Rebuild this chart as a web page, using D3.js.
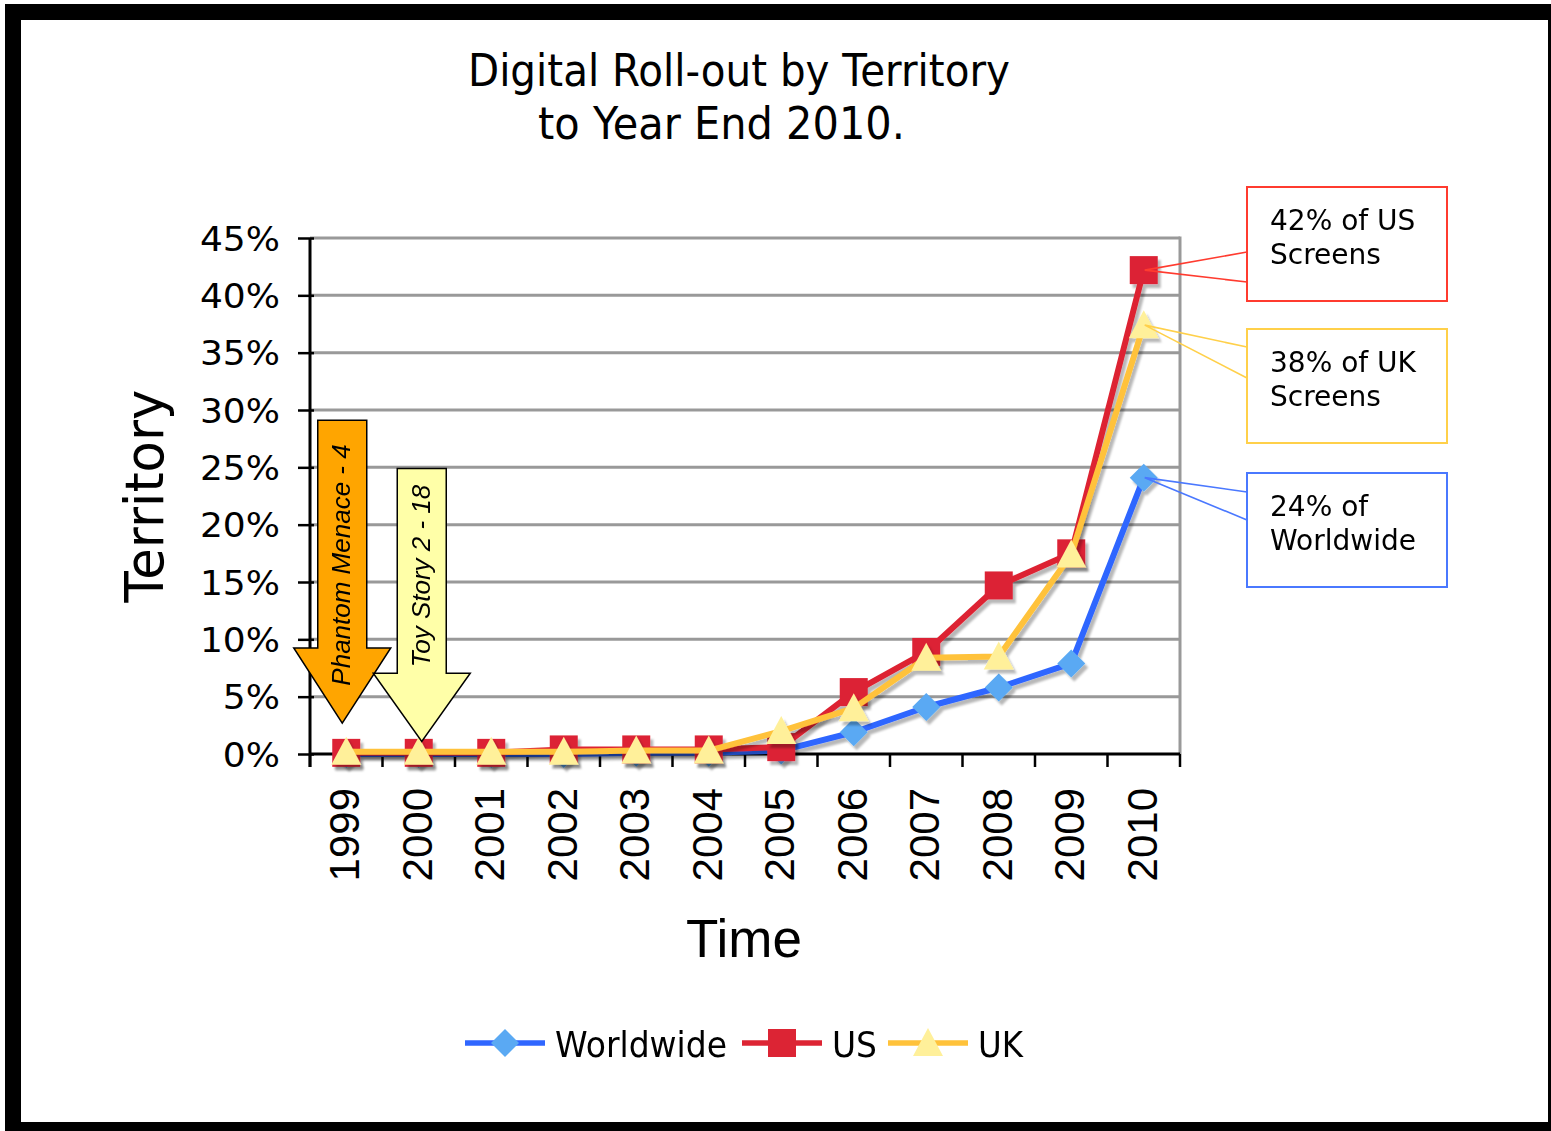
<!DOCTYPE html>
<html><head><meta charset="utf-8">
<script src="https://cdn.jsdelivr.net/npm/d3@7"></script>
<style>body{margin:0;background:#fff}svg{display:block}</style>
</head><body><svg id="c" width="1551" height="1131"></svg>
<script>
// ---- data ----
const years = ["1999","2000","2001","2002","2003","2004","2005","2006","2007","2008","2009","2010"];
const worldwide = [0, 0, 0, 0, 0.1, 0.1, 0.3, 1.9, 4.1, 5.8, 7.9, 24.1];
const us        = [0.1, 0.1, 0.1, 0.4, 0.4, 0.4, 0.6, 5.4, 8.9, 14.7, 17.5, 42.2];
const uk        = [0.2, 0.2, 0.2, 0.2, 0.3, 0.3, 2.0, 4.0, 8.4, 8.5, 17.4, 37.4];
const yTicks = [0, 5, 10, 15, 20, 25, 30, 35, 40, 45];
const seriesNames = ["Worldwide", "US", "UK"];
const calloutLines = [["42% of US", "Screens"], ["38% of UK", "Screens"], ["24% of", "Worldwide"]];
const arrowLabels = ["Phantom Menace - 4", "Toy Story 2 - 18"];
const arrowYears = ["1999", "2000"];
const arrowTops = [29.1, 24.9];      // % level of shaft top
const arrowHeads = [9.25, 7.05];     // % level of head base
const arrowTips = [2.7, 1.1];        // % level of tip
const titleLines = ["Digital Roll-out by Territory", "to Year End 2010."];

const svg = d3.select("#c");
const W = 1551, H = 1131;

// frame
svg.append("rect").attr("x",5).attr("y",4).attr("width",W-5).attr("height",H-4).attr("fill","#000");
svg.append("rect").attr("x",21).attr("y",20).attr("width",1527).attr("height",1102).attr("fill","#fff");

const defs = svg.append("defs");
const f = defs.append("filter").attr("id","sh").attr("x","-20%").attr("y","-20%").attr("width","140%").attr("height","140%");
f.append("feDropShadow").attr("dx",3).attr("dy",4).attr("stdDeviation",1.2)
 .attr("flood-color","#000").attr("flood-opacity",0.28);

const pL = 310, pR = 1180, pT = 238, pB = 754;
const x = d3.scaleBand().domain(years).range([pL, pR]).padding(0);
const xc = d => x(d) + x.bandwidth()/2;
const y = d3.scaleLinear().domain([0,45]).range([pB, pT]);

// title
const tx = [468, 538], tw = [542, 367], tb = [86, 139];
titleLines.forEach((t,i) => {
  svg.append("text").attr("x",tx[i]).attr("y",tb[i]).text(t)
    .attr("font-family","DejaVu Sans").attr("font-size",44).attr("fill","#000")
    .attr("textLength",tw[i]).attr("lengthAdjust","spacingAndGlyphs");
});

// grid
svg.append("g").selectAll("line").data(yTicks.filter(d=>d>0)).join("line")
  .attr("x1",pL).attr("x2",pR).attr("y1",d=>y(d)).attr("y2",d=>y(d))
  .attr("stroke","#999").attr("stroke-width",3);
svg.append("line").attr("x1",pR).attr("x2",pR).attr("y1",y(45)-1.5).attr("y2",pB)
  .attr("stroke","#999").attr("stroke-width",3);

// y axis
const yAxis = d3.axisLeft(y).tickValues(yTicks).tickSize(12).tickFormat(d=>d+"%");
const gy = svg.append("g").attr("transform",`translate(${pL},0)`).call(yAxis);
gy.select(".domain").remove();
gy.selectAll(".tick line").attr("stroke","#000").attr("stroke-width",2.5).attr("x2",-12).attr("x1",4);
gy.selectAll(".tick text").remove();
yTicks.forEach(d => {
  svg.append("text").attr("transform",`translate(280,${y(d)+12.5}) scale(1.06,1)`)
    .attr("text-anchor","end").attr("font-family","DejaVu Sans").attr("font-size",34)
    .attr("fill","#000").text(d+"%");
});
svg.append("line").attr("x1",pL).attr("x2",pL).attr("y1",pT).attr("y2",767)
  .attr("stroke","#000").attr("stroke-width",3);

// x axis
svg.append("line").attr("x1",pL).attr("x2",pR).attr("y1",pB).attr("y2",pB)
  .attr("stroke","#000").attr("stroke-width",3);
const bounds = years.map(d=>x(d)).concat([pR]);
svg.append("g").selectAll("line").data(bounds).join("line")
  .attr("x1",d=>d).attr("x2",d=>d).attr("y1",pB).attr("y2",767)
  .attr("stroke","#000").attr("stroke-width",2.5);
years.forEach(d => {
  svg.append("text").attr("transform",`translate(${xc(d)+13},788) rotate(-90)`)
    .attr("text-anchor","end").attr("font-family","Liberation Sans").attr("font-size",42)
    .attr("fill","#000").text(d);
});

// axis titles
svg.append("text").attr("transform","translate(163,496) rotate(-90)").attr("text-anchor","middle")
  .attr("font-family","DejaVu Sans").attr("font-size",54).attr("fill","#000")
  .attr("textLength",213).attr("lengthAdjust","spacingAndGlyphs").text("Territory");
svg.append("text").attr("x",744).attr("y",957).attr("text-anchor","middle")
  .attr("font-family","Liberation Sans").attr("font-size",53).attr("fill","#000").text("Time");

// series
const lineColors = ["#2f66ff", "#dd2433", "#ffc23a"];
const markColors = ["#5aa9f3", "#dc2434", "#fff09a"];
const markPath = [
  "M0,-14L14,0L0,14L-14,0Z",
  "M-14,-14H14V14H-14Z",
  "M0,-15L15,13H-15Z"
];
const data = [worldwide, us, uk];
const line = d3.line().x((d,i)=>xc(years[i])).y(d=>y(d));
data.forEach((vals,k) => {
  const g = svg.append("g").attr("filter","url(#sh)");
  g.append("path").attr("d",line(vals)).attr("fill","none")
    .attr("stroke",lineColors[k]).attr("stroke-width",6).attr("stroke-linejoin","round");
  g.selectAll("path.m").data(vals).join("path").attr("class","m")
    .attr("transform",(d,i)=>`translate(${xc(years[i])},${y(d)})`)
    .attr("d",markPath[k]).attr("fill",markColors[k]);
});

// arrows
const arrowFills = ["#ffa500", "#ffffa8"];
const arrowOff = [-4, 3];
arrowYears.forEach((yr,i) => {
  const cx = xc(yr) + arrowOff[i];
  const sw = 24.5, hw = 48.5;
  const t = y(arrowTops[i]), hb = y(arrowHeads[i]), tip = y(arrowTips[i]);
  const p = d3.path();
  p.moveTo(cx-sw,t); p.lineTo(cx+sw,t); p.lineTo(cx+sw,hb); p.lineTo(cx+hw,hb);
  p.lineTo(cx,tip); p.lineTo(cx-hw,hb); p.lineTo(cx-sw,hb); p.closePath();
  svg.append("path").attr("d",p.toString()).attr("fill",arrowFills[i])
    .attr("stroke","#000").attr("stroke-width",1.5);
  const cy = i===0 ? 565 : 576;
  svg.append("text").attr("transform",`translate(${cx+8},${cy}) rotate(-90)`)
    .attr("text-anchor","middle").attr("font-family","Liberation Sans").attr("font-style","italic")
    .attr("font-size",26).attr("fill","#000").text(arrowLabels[i]);
});

// callouts
const boxStroke = ["#ff3b2f", "#ffd04a", "#4a78ff"];
const boxTop = [187, 329, 473];
const baseA = [252, 347, 492], baseB = [282, 378, 520];
const calloutSeries = [1, 2, 0];
calloutSeries.forEach((s,i) => {
  const ax = xc("2010") + 1, ay = y(data[s][years.length-1]);
  svg.append("rect").attr("x",1247).attr("y",boxTop[i]).attr("width",200).attr("height",114)
    .attr("fill","#fff").attr("stroke",boxStroke[i]).attr("stroke-width",2);
  svg.append("path").attr("d",`M1247,${baseA[i]}L${ax},${ay}L1247,${baseB[i]}`)
    .attr("fill","none").attr("stroke",boxStroke[i]).attr("stroke-width",1.6);
  calloutLines[i].forEach((t,j) => {
    svg.append("text").attr("x",1270).attr("y",boxTop[i]+43+j*34)
      .attr("font-family","DejaVu Sans").attr("font-size",28).attr("fill","#000").text(t);
  });
});

// legend
const legX = [465, 742, 888];
const legTW = [172, 45, 45];
seriesNames.forEach((n,k) => {
  const g = svg.append("g");
  g.append("line").attr("x1",legX[k]).attr("x2",legX[k]+80).attr("y1",1043).attr("y2",1043)
    .attr("stroke",lineColors[k]).attr("stroke-width",5.5);
  g.append("path").attr("transform",`translate(${legX[k]+40},1043)`).attr("d",markPath[k]).attr("fill",markColors[k]);
  g.append("text").attr("x",legX[k]+90).attr("y",1057).attr("font-family","DejaVu Sans")
    .attr("font-size",36).attr("fill","#000")
    .attr("textLength",legTW[k]).attr("lengthAdjust","spacingAndGlyphs").text(n);
});
</script></body></html>
